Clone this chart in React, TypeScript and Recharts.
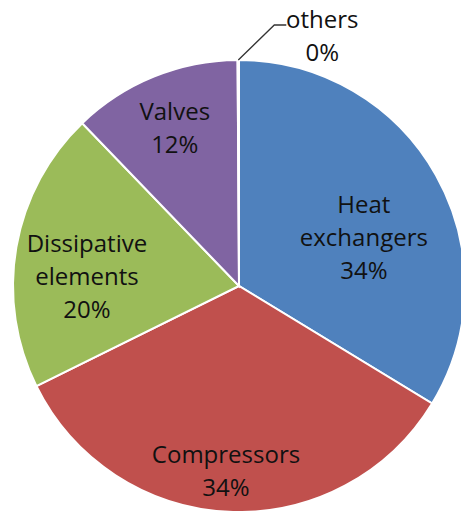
import { Cell, Pie, PieChart } from "recharts";

const categories = ["Heat\nexchangers", "Compressors", "Dissipative\nelements", "Valves", "others"];
const shares = [33.7, 34.0, 20.1, 12.1, 0.1];
const colors = ["#4F81BD", "#C0504D", "#9BBB59", "#8064A2", "#4BACC6"];

// label placement per slice: [radius factor, angle shift in degrees]
const labelLayout: [number, number][] = [
  [0.592, -8.3],
  [0.821, -1.5],
  [0.674, 6.5],
  [0.754, 0],
];

const data = categories.map((name, i) => ({ name, value: shares[i] }));

const RAD = Math.PI / 180;
const FONT = "'Open Sans', sans-serif";
const LINE_H = 33;

const renderLabel = (props: any) => {
  const { cx, cy, midAngle, outerRadius, percent, index, name } = props;
  const lines: string[] = [...String(name).split("\n"), `${Math.round(percent * 100)}%`];

  if (index === 4) {
    const sx = cx + outerRadius * Math.cos(-midAngle * RAD);
    const sy = cy + outerRadius * Math.sin(-midAngle * RAD);
    const mx = sx + 36;
    const my = sy - 35;
    const ex = mx + 12;
    return (
      <g>
        <path d={`M${sx},${sy}L${mx},${my}L${ex},${my}`} stroke="#333" strokeWidth={1.3} fill="none" />
        <text x={ex + 36} y={my + 3} textAnchor="middle" fontFamily={FONT} fontSize={24} fill="#111">
          {lines.map((l, k) => (
            <tspan key={k} x={ex + 36} dy={k === 0 ? 0 : LINE_H}>
              {l}
            </tspan>
          ))}
        </text>
      </g>
    );
  }

  const [rf, shift] = labelLayout[index];
  const a = (midAngle + shift) * RAD;
  const x = cx + outerRadius * rf * Math.cos(-a);
  const y = cy + outerRadius * rf * Math.sin(-a);
  const firstBaseline = y + 8 - ((lines.length - 1) * LINE_H) / 2;

  return (
    <text x={x} y={firstBaseline} textAnchor="middle" fontFamily={FONT} fontSize={24} fill="#111">
      {lines.map((l, k) => (
        <tspan key={k} x={x} dy={k === 0 ? 0 : LINE_H}>
          {l}
        </tspan>
      ))}
    </text>
  );
};

export default function App() {
  return (
    <div style={{ position: "absolute", left: 0, top: 0, width: 461, height: 511, background: "#fff" }}>
      <PieChart width={461} height={511} margin={{ top: 0, right: 0, bottom: 0, left: 0 }}>
        <Pie
          data={data}
          dataKey="value"
          nameKey="name"
          cx={239}
          cy={286}
          outerRadius={226}
          startAngle={90}
          endAngle={-270}
          stroke="#fff"
          strokeWidth={2}
          label={renderLabel}
          labelLine={false}
          isAnimationActive={false}
        >
          {data.map((d, i) => (
            <Cell key={d.name} fill={colors[i]} />
          ))}
        </Pie>
      </PieChart>
    </div>
  );
}
